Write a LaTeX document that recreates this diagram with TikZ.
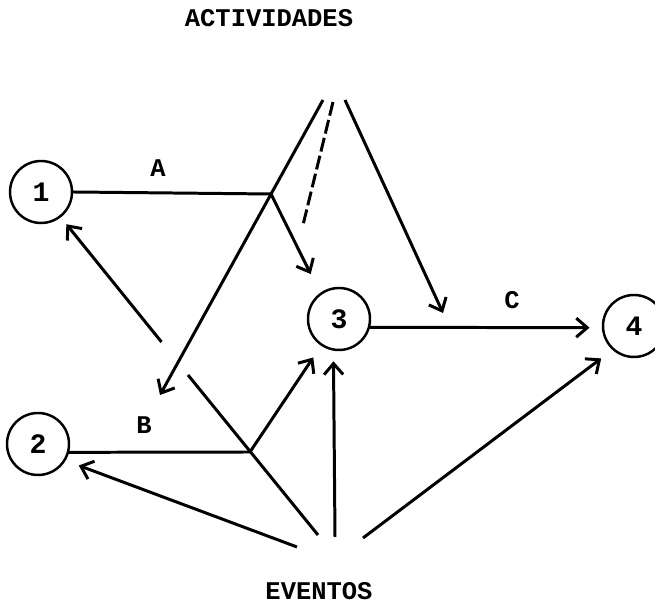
\documentclass[tikz,border=0pt]{standalone}
\usepackage{fontspec}
\setmonofont{Liberation Mono}
\usetikzlibrary{arrows.meta}

\begin{document}
\begin{tikzpicture}[line width=1.7pt,
  >={Straight Barb[length=2.2mm,width=3.8mm]},
  event/.style={circle,draw,line width=1.4pt,minimum size=1.24cm,inner sep=0pt,
    font=\ttfamily\bfseries\fontsize{16}{16}\selectfont},
  lbl/.style={font=\ttfamily\bfseries\fontsize{14.5}{16}\selectfont}]
\useasboundingbox (0,0) rectangle (13.1,12.1);

% Events
\node[event] (n1) at (0.82,8.26) {1};
\node[event] (n2) at (0.76,3.22) {2};
\node[event] (n3) at (6.78,5.72) {3};
\node[event] (n4) at (12.68,5.58) {4};

% Headings and activity letters
\node[lbl] (act) at (5.38,11.73) {ACTIVIDADES};
\node[lbl] (evt) at (6.38,0.28) {EVENTOS};
\node[lbl] (la) at (3.16,8.74) {A};
\node[lbl] (lb) at (2.88,3.60) {B};
\node[lbl] (lc) at (10.24,6.10) {C};

% Free ends and bends
\coordinate (aL) at (6.46,10.10);
\coordinate (aM) at (6.66,10.06);
\coordinate (aR) at (6.90,10.10);
\coordinate (jA) at (5.42,8.22);
\coordinate (actB) at (3.20,4.20);
\coordinate (dashEnd) at (6.06,7.60);
\coordinate (actC) at (8.86,5.84);
\coordinate (jB) at (5.00,3.06);
\coordinate (eL) at (5.94,1.16);
\coordinate (eM) at (6.36,1.40);
\coordinate (eC) at (6.70,1.36);
\coordinate (eR) at (7.26,1.34);
\coordinate (hopLo) at (3.76,4.60);
\coordinate (hopHi) at (3.23,5.26);

% Activities A, B, C
\draw (n1.east) -- (jA);
\draw[->,shorten >=12pt] (jA) -- (n3.126);
\draw (n2.-15) -- (jB);
\draw[->,shorten >=8pt] (jB) -- (n3);
\draw[->,shorten >=7pt] (n3.-15) -- (n4.183);

% Pointers from the top heading
\draw[->] (aL) -- (actB);
\draw[dash pattern=on 8pt off 2.5pt] (aM) -- (dashEnd);
\draw[->] (aR) -- (actC);

% Pointers from the bottom heading
\draw[->,shorten >=8pt] (eL) -- (n2.-31);
\draw (eM) -- (hopLo);
\draw[->,shorten >=5pt] (hopHi) -- (n1.-52);
\draw[->,shorten >=6pt] (eC) -- (n3.-100);
\draw[->,shorten >=8pt] (eR) -- (n4.228);
\end{tikzpicture}
\end{document}
